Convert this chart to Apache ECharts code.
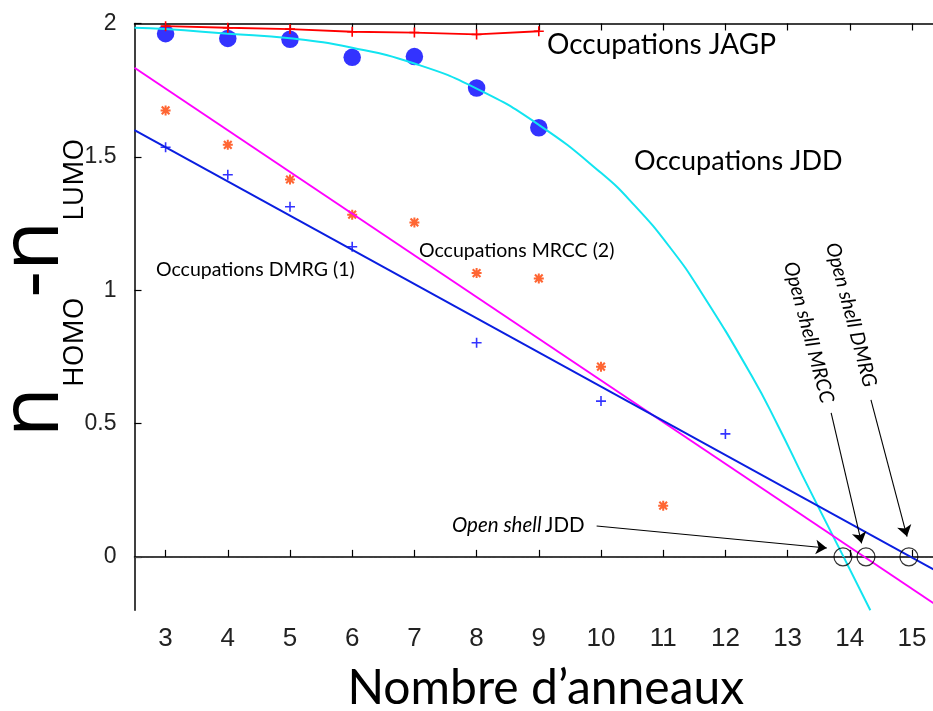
<!DOCTYPE html>
<html><head><meta charset="utf-8">
<script src="https://cdn.jsdelivr.net/npm/echarts@6/dist/echarts.min.js"></script>
<style>html,body{margin:0;padding:0;background:#fff}#c{width:933px;height:711px}</style>
</head><body><div id="c"></div>
<script>
// ---- data ----
const xTicks = [3,4,5,6,7,8,9,10,11,12,13,14,15];
const yTicks = [0,0.5,1,1.5,2];

const jagpX = [3,4,5,6,7,8,9];
const jagpY = [1.990,1.984,1.979,1.969,1.966,1.959,1.971];

const jddX = [3,4,5,6,7,8,9];
const jddY = [1.962,1.944,1.941,1.873,1.876,1.758,1.609];

const jddFitX = [2.5,3,4,5,6,7,8,9,10,10.55,11.11,11.59,12.42,12.85,13.25,13.9,14.33];
const jddFitY = [1.984,1.979,1.962,1.945,1.909,1.85,1.756,1.62,1.44,1.315,1.16,1.0,0.68,0.49,0.30,0,-0.2];

const mrccX = [3,4,5,6,7,8,9,10,11];
const mrccY = [1.674,1.545,1.415,1.283,1.254,1.064,1.044,0.713,0.192];
const mrccFitX = [2.5,15.5];
const mrccFitY = [1.834,-0.198];

const dmrgX = [3,4,5,6,8,10,12];
const dmrgY = [1.536,1.433,1.313,1.163,0.803,0.584,0.461];
const dmrgFitX = [2.5,15.5];
const dmrgFitY = [1.60,-0.067];

const openX = [13.89,14.26,14.95];
const openY = [0,0,0];

const arrowFrom = [[9.93,0.116],[13.70,0.54],[14.34,0.589]];
const arrowTo   = [[13.63,0.033],[14.19,0.051],[14.92,0.076]];

// ---- build ----
const pair = (xs, ys) => xs.map((x, i) => [x, ys[i]]);
const PLUS = 'path://M4.2,0h1.6v4.2h4.2v1.6h-4.2v4.2h-1.6v-4.2h-4.2v-1.6h4.2z';
const STAR = 'path://M4,0h2v4h4v2h-4v4h-2v-4h-4v-2h4z M0.4,1.9L1.9,0.4L9.6,8.1L8.1,9.6z M8.1,0.4L9.6,1.9L1.9,9.6L0.4,8.1z';
const TXT = 'Lato';

const chart = echarts.init(document.getElementById('c'), null, {renderer:'canvas'});
const axisCommon = {
  type:'value', min:2.5, max:15.5,
  axisLine:{show:true, lineStyle:{color:'#000', width:1.5}},
  splitLine:{show:false}
};
chart.setOption({
  animation:false,
  backgroundColor:'#fff',
  grid:{left:134.5, top:23.5, width:808.6, height:586.7, containLabel:false, outerBoundsMode:'none'},
  xAxis:[
    Object.assign({}, axisCommon, {
      position:'bottom',
      axisTick:{inside:true, length:7, customValues:xTicks, lineStyle:{color:'#000', width:1.2}},
      axisLabel:{customValues:xTicks, fontSize:26, fontFamily:'Liberation Sans Narrow, Liberation Sans, sans-serif', color:'#222', margin:16},
      name:'Nombre d\u2019anneaux', nameLocation:'middle', nameGap:54,
      nameTextStyle:{fontSize:48, fontFamily:TXT, color:'#000', padding:[0,0,0,14]}
    }),
    Object.assign({}, axisCommon, {
      position:'top',
      axisTick:{inside:true, length:7, customValues:xTicks, lineStyle:{color:'#000', width:1.2}},
      axisLabel:{show:false, customValues:xTicks}
    })
  ],
  yAxis:{
    type:'value', min:-0.2, max:2,
    axisLine:{show:true, lineStyle:{color:'#000', width:1.5}},
    axisTick:{inside:true, length:7, customValues:yTicks, lineStyle:{color:'#000', width:1.2}},
    axisLabel:{customValues:yTicks, fontSize:23, fontFamily:'Liberation Sans, sans-serif', color:'#222', margin:18},
    splitLine:{show:false}
  },
  series:[
    {name:'JAGP', type:'line', data:pair(jagpX,jagpY), symbol:PLUS, symbolSize:10,
     itemStyle:{color:'#ff0000'}, lineStyle:{color:'#ff0000', width:1.8}},
    {name:'JDD', type:'scatter', data:pair(jddX,jddY), symbol:'circle', symbolSize:17.5,
     itemStyle:{color:'#0000ff'}},
    {name:'JDD fit', type:'line', data:pair(jddFitX,jddFitY), smooth:0.5, symbol:'none',
     lineStyle:{color:'#12e4f0', width:2}},
    {name:'MRCC', type:'scatter', data:pair(mrccX,mrccY), symbol:STAR, symbolSize:10,
     itemStyle:{color:'#ff4000'}},
    {name:'MRCC fit', type:'line', data:pair(mrccFitX,mrccFitY), symbol:'none',
     lineStyle:{color:'#ff00ff', width:2}},
    {name:'DMRG', type:'scatter', data:pair(dmrgX,dmrgY), symbol:PLUS, symbolSize:10,
     itemStyle:{color:'#0000ff'}},
    {name:'DMRG fit', type:'line', data:pair(dmrgFitX,dmrgFitY), symbol:'none',
     lineStyle:{color:'#0a1ee0', width:2},
     markLine:{silent:true, symbol:'none', label:{show:false},
       lineStyle:{color:'#444', width:1, type:[7,3,1.5,3,1.5,3]},
       data:[{yAxis:0}]}},
    {name:'Open shell', type:'scatter', data:pair(openX,openY), symbol:'circle', symbolSize:18, z:5,
     itemStyle:{color:'rgba(0,0,0,0)', borderColor:'#000', borderWidth:1.2},
     markLine:{silent:true, symbol:['none','arrow'], symbolSize:11, label:{show:false},
       lineStyle:{color:'#000', width:1.1, type:'solid'},
       data: arrowFrom.map((f,i)=>[{coord:f},{coord:arrowTo[i]}])}}
  ],
  graphic:[
    {type:'text', x:547, y:45, style:{text:'Occupations JAGP', font:'28px Lato', fill:'#000', align:'left', verticalAlign:'middle'}},
    {type:'text', x:634, y:161, style:{text:'Occupations JDD', font:'27px Lato', fill:'#000', align:'left', verticalAlign:'middle'}},
    {type:'text', x:419, y:251, style:{text:'Occupations MRCC (2)', font:'19.5px Lato', fill:'#000', align:'left', verticalAlign:'middle'}},
    {type:'text', x:156, y:270, style:{text:'Occupations DMRG (1)', font:'19.5px Lato', fill:'#000', align:'left', verticalAlign:'middle'}},
    {type:'text', x:452, y:525, style:{text:'{i|Open shell} {r|JDD}', align:'left', verticalAlign:'middle',
      rich:{i:{fontSize:20.5, fontFamily:'Lato', fontStyle:'italic', fill:'#000'}, r:{fontSize:20.5, fontFamily:'Lato', fill:'#000'}}}},
    {type:'text', x:790, y:262, rotation:-1.31, style:{text:'Open shell MRCC', font:'italic 20px Lato', fill:'#000', align:'left', verticalAlign:'middle'}},
    {type:'text', x:832, y:243, rotation:-1.31, style:{text:'Open shell DMRG', font:'italic 20px Lato', fill:'#000', align:'left', verticalAlign:'middle'}},
    {type:'text', x:35, y:288, rotation:Math.PI/2, style:{
      text:'{n|n}{s|HOMO}{h|-}{n|n}{s|LUMO}', align:'center', verticalAlign:'middle',
      rich:{
        n:{fontSize:82, fontFamily:'Open Sans', lineHeight:108, verticalAlign:'middle', fill:'#000'},
        h:{fontSize:82, fontFamily:'Open Sans', lineHeight:108, verticalAlign:'middle', fill:'#000'},
        s:{fontSize:28, fontFamily:'Open Sans', verticalAlign:'bottom', fill:'#000'}
      }}}
  ]
});
</script></body></html>
